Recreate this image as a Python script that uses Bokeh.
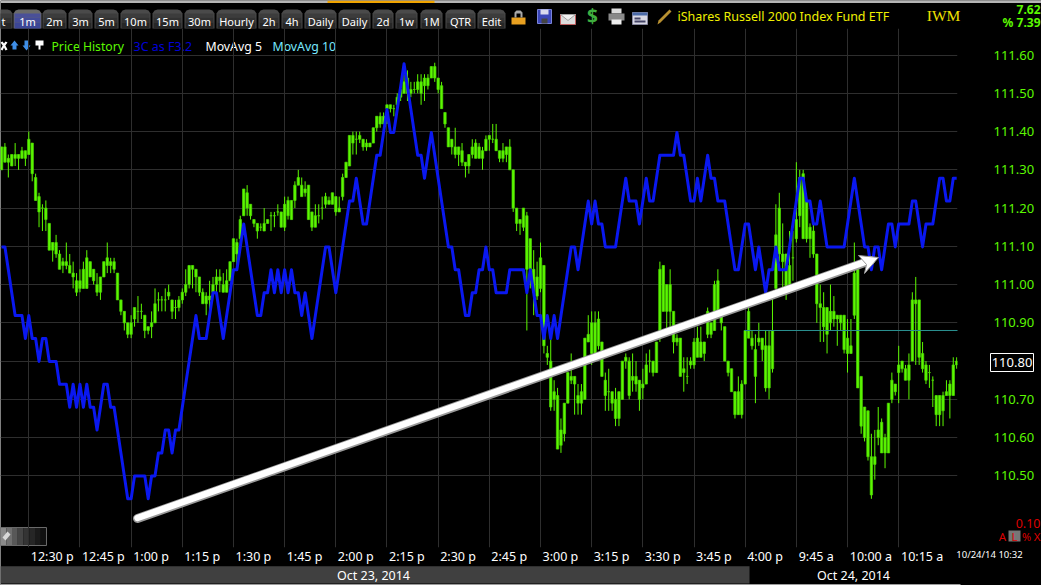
from bokeh.plotting import figure
from bokeh.models import Range1d, FixedTicker, Label, BoxAnnotation, PolyAnnotation
from bokeh.embed import file_html
from bokeh.resources import INLINE

# 1-minute candles, whole cents above 110.00; first bar index is -8 (12:22 p), bar 0 is 12:30 p
high = [136,137,134,134,137,134,136,135,
 140,137,129,124,121,122,116,111,113,109,107,111,108,106,103,
 104,106,109,106,104,103,102,106,111,107,107,103,96,93,90,
 92,94,97,95,92,89,93,99,98,97,99,100,96,96,97,
 99,104,105,105,104,102,99,98,101,102,104,104,103,104,106,
 112,112,118,125,126,121,117,116,116,120,117,119,119,121,119,
 123,123,122,127,130,128,127,126,119,121,121,123,124,123,124,
 123,123,129,132,139,140,140,140,138,138,137,141,144,145,145,
 147,147,147,150,152,155,156,153,153,155,155,155,155,157,158,
 154,153,145,141,138,141,136,137,132,134,138,138,137,136,139,
 139,142,142,135,137,136,138,130,120,117,120,119,112,109,106,
 111,105,84,88,75,73,65,69,77,82,76,74,74,86,92,
 93,93,93,85,77,78,72,73,72,80,82,81,82,80,75,
 78,82,83,80,85,106,105,100,104,93,87,86,81,81,81,
 86,89,89,85,94,90,101,104,92,89,80,78,72,76,75,
 88,94,88,87,90,86,88,88,97,121,124,116,108,114,114,
 132,130,130,122,116,116,108,100,98,94,100,97,92,92,92,
 91,91,111,104,76,68,67,61,62,68,65,61,69,77,74,
 84,80,79,82,98,102,96,85,80,79,76,71,71,72,75,
 75,81,81]
body_top = [136,136,133,134,134,134,135,135,
 138,137,128,123,120,120,116,111,111,108,106,106,105,103,101,
 101,104,107,106,104,100,102,106,107,106,106,103,96,93,90,
 90,94,93,93,92,89,90,95,96,96,96,98,96,94,96,
 98,100,105,105,104,102,98,97,97,100,102,102,100,101,106,
 112,111,117,125,124,121,117,116,115,116,117,118,118,119,119,
 121,122,122,126,128,126,125,126,119,118,118,120,123,122,124,
 123,120,128,132,139,139,138,139,138,137,137,141,144,144,144,
 147,147,146,149,151,153,154,151,151,153,153,154,154,157,157,
 154,152,145,141,138,136,136,135,132,134,136,137,136,135,138,
 139,138,138,135,135,136,136,130,120,117,120,118,112,104,102,
 107,105,82,80,72,71,62,69,77,76,76,71,72,86,87,
 90,90,91,85,75,72,72,70,72,80,81,80,76,76,75,
 74,79,80,80,85,104,105,100,100,93,86,86,78,76,80,
 85,86,85,85,93,90,100,101,92,89,80,78,72,72,74,
 88,93,86,83,86,86,84,84,88,113,120,108,108,105,107,
 117,128,129,122,115,114,108,95,94,94,93,93,92,92,92,
 86,84,103,104,76,68,67,55,55,62,64,60,69,75,74,
 79,80,78,79,96,96,96,82,79,77,75,71,71,71,72,
 74,79,80]
body_bottom = [130,132,132,131,133,133,133,133,
 134,129,122,119,120,117,109,109,108,104,105,105,103,102,98,
 99,99,99,102,101,98,98,102,105,105,104,96,93,90,87,
 87,91,93,93,88,88,89,90,96,96,96,97,93,94,94,
 96,98,100,104,102,98,95,95,96,98,100,101,98,98,101,
 106,108,112,118,120,118,116,114,115,114,116,118,118,119,115,
 115,118,117,122,126,123,124,117,115,115,118,120,121,121,121,
 119,119,123,128,131,137,138,138,136,136,136,137,141,142,142,
 146,146,146,147,149,150,150,150,151,151,150,152,152,154,154,
 151,146,142,136,136,134,134,132,131,131,134,133,133,133,135,
 138,138,135,133,133,134,130,120,116,116,115,104,104,98,97,
 99,84,81,68,70,57,58,61,69,75,74,69,69,70,85,
 82,82,84,76,71,72,69,65,65,70,80,71,75,74,70,
 73,74,80,77,77,88,93,93,93,85,85,76,77,76,79,
 79,81,81,82,87,87,88,93,90,80,77,72,66,66,66,
 74,86,84,76,85,83,73,73,78,99,108,106,99,100,107,
 112,118,112,112,112,108,95,94,89,87,90,91,91,90,83,
 82,82,92,73,63,60,55,45,53,60,56,56,56,70,72,
 77,78,75,75,80,95,81,78,75,77,75,66,66,67,71,
 71,71,79]
low = [130,132,128,131,131,130,133,131,
 134,127,122,115,114,114,109,106,107,104,103,104,103,99,97,
 98,99,99,102,100,97,96,102,103,103,103,96,92,88,86,
 86,89,90,91,86,87,86,90,93,93,93,96,91,91,93,
 95,97,99,99,98,97,95,92,92,98,98,98,98,98,101,
 106,105,110,118,118,117,115,112,114,114,116,114,115,118,115,
 114,117,117,120,126,123,123,117,114,115,116,117,120,121,121,
 118,119,122,128,131,134,134,137,135,135,136,137,140,141,142,
 142,145,144,146,148,150,148,149,150,150,147,148,151,154,153,
 150,146,141,136,134,133,131,131,128,129,133,133,133,130,135,
 135,137,135,132,132,132,130,119,114,113,114,88,99,92,96,
 98,82,79,67,67,57,56,59,69,74,66,66,66,70,85,
 79,80,83,76,67,67,67,63,63,70,78,70,72,72,67,
 70,74,77,76,77,85,93,88,88,82,84,76,72,74,78,
 78,81,81,80,86,86,88,93,88,80,76,72,65,66,65,
 74,86,83,69,84,80,72,70,77,98,106,99,96,100,101,
 111,115,112,111,107,107,90,85,85,82,88,89,84,88,82,
 77,82,91,73,61,59,54,44,49,58,56,52,56,69,71,
 69,77,75,70,80,79,79,77,74,73,68,63,63,63,71,
 65,71,78]

# 3C confirmation line, in its own quantised indicator steps
three_c = [11,11,10,9,8,8,8,7,
 8,7,7,6,7,7,6,6,6,5,5,5,4,5,4,
 5,4,5,4,4,3,4,5,5,4,4,3,2,1,0,
 0,1,1,1,1,0,1,1,2,2,3,3,2,3,3,
 4,5,6,7,8,7,7,7,8,9,9,8,7,8,9,
 10,10,11,12,11,10,9,8,8,9,9,10,9,10,9,
 10,9,10,9,9,8,9,8,7,8,9,10,11,11,10,
 9,10,11,12,13,13,14,13,12,12,13,14,15,15,16,
 17,16,16,17,18,19,18,17,16,15,15,14,15,16,15,
 14,13,12,11,11,10,10,9,8,8,9,9,10,10,11,
 10,10,9,9,9,9,10,10,10,10,10,9,10,9,8,
 8,7,8,7,8,7,8,9,10,11,11,10,11,12,13,
 12,13,12,12,11,11,11,11,12,13,14,13,13,13,12,
 13,14,13,13,14,15,15,15,15,15,16,15,15,14,13,
 13,14,13,14,15,14,14,13,13,13,12,11,10,10,11,
 12,12,11,10,11,10,9,10,10,11,10,10,10,11,12,
 13,14,14,13,13,12,12,13,12,11,11,11,11,11,11,
 12,13,14,13,12,11,11,10,11,11,10,11,12,12,11,
 12,12,12,12,13,13,12,11,12,12,12,13,14,14,13,
 13,14,14]

time_labels = ["12:30 p","12:45 p","1:00 p","1:15 p","1:30 p","1:45 p","2:00 p","2:15 p","2:30 p","2:45 p",
               "3:00 p","3:15 p","3:30 p","3:45 p","4:00 p","9:45 a","10:00 a","10:15 a"]
price_ticks = [110.5,110.6,110.7,110.8,110.9,111.0,111.1,111.2,111.3,111.4,111.5,111.6]
last_price = "110.80"
prev_level = 110.88
tab_names = ["t","1m","2m","3m","5m","10m","15m","30m","Hourly","2h","4h","Daily","Daily","2d","1w","1M","QTR","Edit"]
tab_edges = [(-6,12),(13,41),(42,66),(68,92),(94,118),(120,150),(152,182),(184,214),(216,256),(258,279),(281,302),
             (304,336),(338,370),(372,393),(395,417),(420,442),(445,475),(477,505)]

bars = list(range(-8, len(high) - 8))
highs = [110 + v / 100 for v in high]
lows = [110 + v / 100 for v in low]
tops = [110 + v / 100 for v in body_top]
bottoms = [110 + v / 100 for v in body_bottom]

STEP = 51.17 / 15          # pixels per bar
W, H = 1041, 585
L_PAD, R_PAD, T_PAD, B_PAD = 0, 84, 28, 38
F_R, F_B = W - R_PAD, H - B_PAD
FONT = "Noto Sans"
GREEN = "#5cf800"

# ---- backdrop page furniture, one pixel per unit ----
chrome = figure(width=W, height=H, output_backend="svg", toolbar_location=None,
                x_range=Range1d(0, W), y_range=Range1d(H, 0), x_axis_type=None, y_axis_type=None,
                background_fill_color="black", border_fill_color="black", outline_line_color=None,
                min_border=0)
chrome.grid.visible = False
chrome.styles = {"position": "absolute", "left": "0", "top": "0"}


def box(x0, y0, x1, y1, color, line=None):
    chrome.add_layout(BoxAnnotation(left=x0, right=x1, top=y0, bottom=y1, fill_color=color, fill_alpha=1,
                                    line_color=line, line_alpha=1 if line else 0, level="annotation"))


def poly(xs, ys, color, line=None):
    chrome.add_layout(PolyAnnotation(xs=xs, ys=ys, xs_units="data", ys_units="data", fill_color=color, fill_alpha=1,
                                     line_color=line, line_alpha=1 if line else 0, level="annotation"))


def label(x, y, text, color="white", size=12.5, align="left", font=FONT, style="normal"):
    chrome.add_layout(Label(x=x, y=y, text=text, text_color=color, text_font_size=f"{size}px", text_align=align,
                            text_baseline="middle", text_font=font, text_font_style=style, level="annotation"))


# top strip
box(0, 0, W, 2.6, "#b4b4b4")
box(327, 0, 434, 2.6, "#f0a400")

# tabs
for name, (a, b) in zip(tab_names, tab_edges):
    active = name == "1m"
    poly([a, a, a + 2, a + 5, b - 5, b - 2, b, b], [28, 13, 10, 9, 9, 10, 13, 28],
         "#6a6a6a" if active else "#4a4a4a")
    for y0, y1, col, act in ((13, 17, "#3c3c3c", "#4a5098"), (17, 22, "#323232", "#444c9a"), (22, 28, "#262626", "#3c4696")):
        box(a + 1, y0, b - 1, y1, act if active else col)
    label((a + b) / 2, 20.5, name, "white", 11, "center")

# top icons
box(511, 17, 525, 24, "#e8a020")
poly([514, 514, 516, 520, 522, 522, 520, 520, 516, 516], [17, 12, 10, 10, 12, 17, 17, 13, 13, 17], "#a8a8a8")
box(537, 9, 551, 23, "#3a45b8", "#7a84d8")
box(540, 9, 548, 14, "#d8d8ee")
box(541, 18, 547, 23, "#444444")
box(560, 14, 575, 24, "#dcdcdc", "#c06060")
poly([560, 567.5, 575], [14, 20, 14], "#f0f0f0", "#a0a0a0")
label(592, 15.5, "$", "#3fae3f", 19, "center", FONT, "bold")
box(611, 8, 621, 13, "#dddddd")
box(608, 13, 624, 20, "#8a8a8a")
box(611, 19, 621, 24, "#eeeeee")
box(632, 12, 647, 24, "#d8d8e4", "#8888a0")
box(632, 12, 647, 15, "#4a6aa8")
box(634, 17, 640, 19, "#444466")
box(634, 20, 645, 22, "#444466")
poly([657, 658, 669, 671, 660], [24, 20, 9, 11, 22], "#b89030")

# title block
label(677, 15.5, "iShares Russell 2000 Index Fund ETF", "#f0f000", 12.5)
label(943, 15, "IWM", "#f0e000", 15.5, "center", "Liberation Serif")
label(1040, 9, "7.62", GREEN, 12, "right", FONT, "bold")
label(1040, 22, "% 7.39", GREEN, 12, "right", FONT, "bold")

# legend row
poly([0, 2, 3.5, 5, 7, 4.8, 7, 5, 3.5, 2, 0, 2.2], [42, 41, 43, 41, 42, 45, 49, 50, 47, 50, 49, 45], "white")
poly([10, 14, 18, 16, 16, 12, 12], [45, 40, 45, 45, 49, 49, 45], "#3f8fe8")
poly([22, 24, 24, 28, 28, 30, 26], [45, 45, 40, 40, 45, 45, 50], "#3f8fe8")
poly([35, 43, 43, 40, 40, 39, 38, 38, 35], [40, 40, 45, 45, 49, 49, 49, 45, 45], "white")
label(51, 45.5, "Price History", GREEN, 12.2)
label(133, 45.5, "3C as F3.2", "#0000d8", 12.5)
label(205, 45.5, "MovAvg 5", "white", 12.3)
label(272, 45.5, "MovAvg 10", "#78e8ff", 12.3)

# current price tag
box(990, 353, 1033, 371, "black", "white")
label(1011.5, 362, last_price, "white", 13, "center")

# bottom-left button
for i, col in enumerate(["#8a8a8a", "#707070", "#585858", "#444444", "#343434", "#262626", "#1a1a1a", "#101010"]):
    box(i * 5.75, 527, (i + 1) * 5.75, 545, col)
box(0, 527, 46, 545, "rgba(0,0,0,0)", "#6a6a6a")
poly([2, 7, 10, 5], [537, 531, 534, 540], "#d8d8d8")

# bottom-right readouts
label(1040, 523, "0.10", "#dd0000", 12.5, "right")
box(1008, 530, 1020, 541, "#777777")
label(1002, 535.5, "A", "#dd0000", 11.5, "center")
label(1014, 535.5, "L", "#dd0000", 11.5, "center")
label(1026, 535.5, "%", "#dd0000", 11, "center")
label(1036.5, 535.5, "X", "#dd0000", 11.5, "center")
label(989, 553.5, "10/24/14 10:32", "white", 9.5, "center")

# date band
box(0, 565.7, 749, 583, "#404040")
box(0, 583.8, 960, 585, "#d0d0d0")
label(373, 574.5, "Oct 23, 2014", "white", 12.5, "center")
label(853, 574.5, "Oct 24, 2014", "white", 12.5, "center")

# ---- the chart itself, transparent, over the backdrop ----
p = figure(width=W, height=H, output_backend="svg", toolbar_location=None,
           x_range=Range1d(-28.3 / STEP, (F_R - 28.3) / STEP),
           y_range=Range1d(110.3127, 111.6695),
           y_axis_location="right",
           background_fill_alpha=0, border_fill_alpha=0,
           outline_line_color=None,
           min_border_left=L_PAD, min_border_right=R_PAD, min_border_top=T_PAD, min_border_bottom=B_PAD)
p.styles = {"position": "absolute", "left": "0", "top": "0"}

p.extra_x_ranges["px"] = Range1d(0, F_R)
p.extra_y_ranges["px"] = Range1d(F_B, T_PAD)
p.extra_y_ranges["threeC"] = Range1d(-(F_B - 498.3) / 22.9, (498.3 - T_PAD) / 22.9)

grid_ticks = [15 * i for i in range(len(time_labels))]
label_pos = [round(g + (2.4 + (7 * len(t) - 7) / 2) / STEP, 2) for g, t in zip(grid_ticks, time_labels)]
xa = p.xaxis[0]
xa.ticker = FixedTicker(ticks=label_pos)
xa.major_label_overrides = {k: t for k, t in zip(label_pos, time_labels)}
xa.major_label_text_color = "white"
xa.major_label_text_font = FONT
xa.major_label_text_font_size = "12.5px"
xa.major_label_standoff = 0
xa.major_tick_out = 0
xa.major_tick_in = 0
xa.major_tick_line_color = None
xa.minor_tick_line_color = None
xa.axis_line_color = None
ya = p.yaxis[0]
ya.ticker = FixedTicker(ticks=price_ticks)
ya.major_label_text_color = GREEN
ya.major_label_text_font = FONT
ya.major_label_text_font_size = "13px"
ya.major_label_standoff = 36
ya.major_tick_out = 0
ya.major_tick_in = 0
ya.major_tick_line_color = None
ya.minor_tick_line_color = None
ya.axis_line_color = None
ya.major_label_overrides = {v: ("" if v == 110.8 else f"{v:.2f}") for v in price_ticks}
for g, ticks in ((p.xgrid[0], grid_ticks), (p.ygrid[0], price_ticks)):
    g.ticker = FixedTicker(ticks=ticks)
    g.grid_line_color = "#2e2e2e"
    g.grid_line_width = 1

# candles
p.segment(bars, lows, bars, highs, line_color=GREEN, line_width=1)
p.vbar(bars, width=0.7, bottom=bottoms, top=tops, fill_color=GREEN, line_color="#4cd800", line_width=0.7)

# prior-level line
p.line([209.8, 273], [prev_level, prev_level], line_color="#2a9090", line_width=1)

# 3C
p.line(bars, three_c, y_range_name="threeC", line_color="#0a18f0", line_width=3, line_join="round")

# hand-drawn arrow
p.line([137, 870], [518, 260], x_range_name="px", y_range_name="px", line_color="#9a9a9a", line_width=9, line_cap="round")
p.line([137, 870], [517.5, 259.5], x_range_name="px", y_range_name="px", line_color="white", line_width=6.5, line_cap="round")
p.patch([858, 878, 864, 866], [255, 257, 273, 264], x_range_name="px", y_range_name="px",
        fill_color="white", line_color="#9a9a9a", line_width=1)

open("out.html", "w").write(file_html([chrome, p], INLINE))
